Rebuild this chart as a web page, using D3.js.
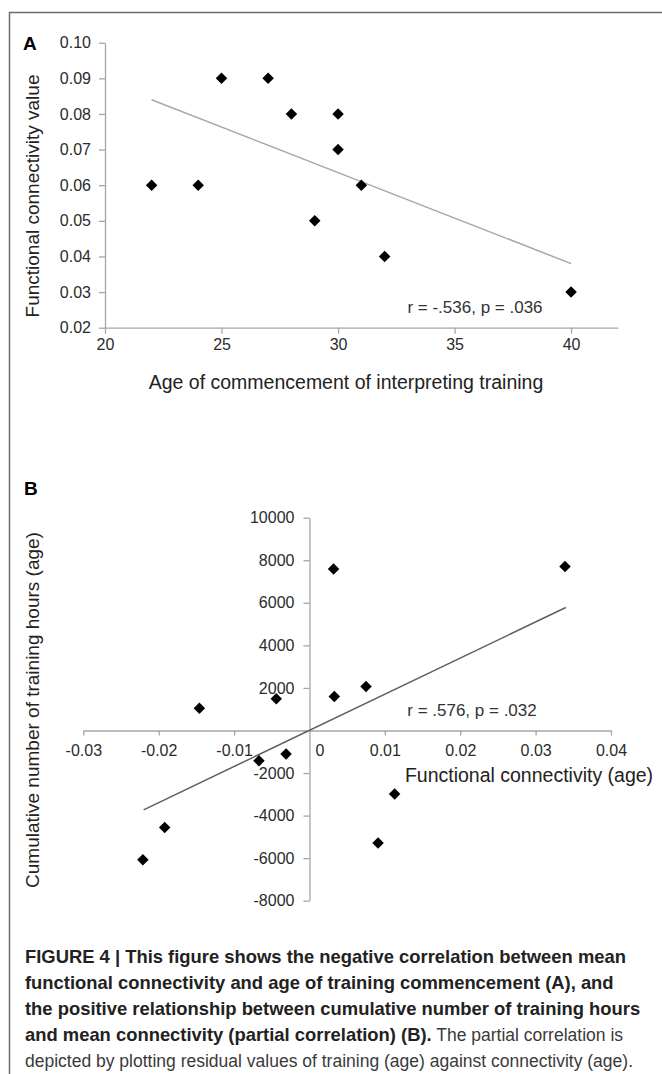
<!DOCTYPE html>
<html>
<head>
<meta charset="utf-8">
<script src="https://cdn.jsdelivr.net/npm/d3@7"></script>
<style>
  html, body { margin: 0; padding: 0; background: #fff; }
  svg { display: block; font-family: "Liberation Sans", Arial, Helvetica, sans-serif; }
</style>
</head>
<body>
<svg id="mainSvg"></svg>
<script>
// panel A: age of commencement vs connectivity
const ageA = [22, 24, 25, 27, 28, 29, 30, 30, 31, 32, 40];
const connA = [0.06, 0.06, 0.09, 0.09, 0.08, 0.05, 0.08, 0.07, 0.06, 0.04, 0.03];
const trendAgeA = [22, 40];
const trendConnA = [0.084, 0.038];
const ticksAX = [20, 25, 30, 35, 40];
const ticksAY = [0.02, 0.03, 0.04, 0.05, 0.06, 0.07, 0.08, 0.09, 0.10];

// panel B: residuals, connectivity (age) vs training hours (age)
const connB = [-0.0221, -0.0192, -0.0146, -0.0067, -0.0044, -0.0031, 0.0032, 0.0033, 0.0075, 0.0091, 0.0113, 0.0339];
const hoursB = [-6080, -4560, 1050, -1420, 1490, -1110, 7590, 1600, 2070, -5290, -2990, 7710];
const trendConnB = [-0.022, 0.034];
const trendHoursB = [-3730, 5780];
const ticksBX = [-0.03, -0.02, -0.01, 0, 0.01, 0.02, 0.03, 0.04];
const ticksBY = [-8000, -6000, -4000, -2000, 0, 2000, 4000, 6000, 8000, 10000];

const captionLines = [
    [{ t: "FIGURE 4 | This figure shows the negative correlation between mean", b: true }],
    [{ t: "functional connectivity and age of training commencement (A), and", b: true }],
    [{ t: "the positive relationship between cumulative number of training hours", b: true }],
    [{ t: "and mean connectivity (partial correlation) (B).", b: true }, { t: " The partial correlation is", b: false }],
    [{ t: "depicted by plotting residual values of training (age) against connectivity (age).", b: false }]
];

const W = 662, H = 1074;
const axisColor = "#a6a6a6";
const textColor = "#2b2b2b";

const svg = d3.select("#mainSvg").attr("width", W).attr("height", H);

// frame (left + top visible)
svg.append("path")
    .attr("d", `M9.5,${H} L9.5,12.5 L${W},12.5`)
    .attr("fill", "none")
    .attr("stroke", "#6b6b6b")
    .attr("stroke-width", 1.5);

const diamond = d3.symbol().type(d3.symbolSquare).size(66);

function styleAxis(g) {
    g.select(".domain").attr("stroke", axisColor).attr("stroke-width", 1.3);
    g.selectAll(".tick line").attr("stroke", axisColor).attr("stroke-width", 1.3);
    g.selectAll(".tick text").attr("fill", textColor).style("font-size", "16px")
        .style("font-family", "'Liberation Sans', Arial, sans-serif");
}

// ---------- panel A ----------
{
    const x = d3.scaleLinear().domain([20, 42]).range([105, 617.7]);
    const y = d3.scaleLinear().domain([0.02, 0.10]).range([327.7, 42.7]);
    const g = svg.append("g").attr("id", "panelA");

    g.append("g")
        .attr("transform", `translate(0,${y(0.02)})`)
        .call(d3.axisBottom(x).tickValues(ticksAX).tickSize(6).tickPadding(5).tickSizeOuter(0))
        .call(styleAxis);

    g.append("g")
        .attr("transform", `translate(${x(20)},0)`)
        .call(d3.axisLeft(y).tickValues(ticksAY).tickSize(6).tickPadding(8).tickSizeOuter(0)
            .tickFormat(d => d.toFixed(2)))
        .call(styleAxis);

    g.append("line")
        .attr("x1", x(trendAgeA[0])).attr("y1", y(trendConnA[0]))
        .attr("x2", x(trendAgeA[1])).attr("y2", y(trendConnA[1]))
        .attr("stroke", "#a8a8a8").attr("stroke-width", 1.5);

    g.selectAll("path.pt")
        .data(ageA.map((a, i) => [a, connA[i]]))
        .join("path")
        .attr("class", "pt")
        .attr("d", diamond)
        .attr("transform", d => `translate(${x(d[0])},${y(d[1])}) rotate(45)`)
        .attr("fill", "#000");

    g.append("text").text("A")
        .attr("x", 23).attr("y", 50)
        .attr("font-weight", "bold").attr("font-size", 19).attr("fill", "#000");

    g.append("text").text("r = -.536, p = .036")
        .attr("x", 475).attr("y", 313).attr("text-anchor", "middle")
        .attr("font-size", 17).attr("fill", "#333");

    g.append("text").text("Age of commencement of interpreting training")
        .attr("x", 346).attr("y", 389).attr("text-anchor", "middle")
        .attr("font-size", 19.5).attr("fill", "#222");

    g.append("text").text("Functional connectivity value")
        .attr("transform", "translate(39,196) rotate(-90)")
        .attr("text-anchor", "middle")
        .attr("font-size", 19).attr("fill", "#222");
}

// ---------- panel B ----------
{
    const x = d3.scaleLinear().domain([-0.03, 0.04]).range([83.3, 611]);
    const y = d3.scaleLinear().domain([-8000, 10000]).range([900.7, 517.7]);
    const g = svg.append("g").attr("id", "panelB");

    const xAxisG = g.append("g")
        .attr("transform", `translate(0,${y(0)})`)
        .call(d3.axisBottom(x).tickValues(ticksBX).tickSize(5).tickPadding(9).tickSizeOuter(0)
            .tickFormat(d => d === 0 ? "0" : d.toFixed(2)))
        .call(styleAxis);
    // the zero label sits to the right of the vertical axis
    xAxisG.selectAll(".tick").filter(d => d === 0).select("text").attr("dx", 10);
    xAxisG.selectAll(".tick").filter(d => d === 0).select("line").remove();

    g.append("g")
        .attr("transform", `translate(${x(0)},0)`)
        .call(d3.axisLeft(y).tickValues(ticksBY).tickSize(6).tickPadding(9).tickSizeOuter(0)
            .tickFormat(d => d === 0 ? "" : String(d)))
        .call(styleAxis);

    g.append("line")
        .attr("x1", x(trendConnB[0])).attr("y1", y(trendHoursB[0]))
        .attr("x2", x(trendConnB[1])).attr("y2", y(trendHoursB[1]))
        .attr("stroke", "#5e5e5e").attr("stroke-width", 1.5);

    g.selectAll("path.pt")
        .data(connB.map((c, i) => [c, hoursB[i]]))
        .join("path")
        .attr("class", "pt")
        .attr("d", diamond)
        .attr("transform", d => `translate(${x(d[0])},${y(d[1])}) rotate(45)`)
        .attr("fill", "#000");

    g.append("text").text("B")
        .attr("x", 24).attr("y", 495)
        .attr("font-weight", "bold").attr("font-size", 19).attr("fill", "#000");

    g.append("text").text("r = .576, p = .032")
        .attr("x", 472).attr("y", 716).attr("text-anchor", "middle")
        .attr("font-size", 17).attr("fill", "#333");

    g.append("text").text("Functional connectivity (age)")
        .attr("x", 529).attr("y", 782).attr("text-anchor", "middle")
        .attr("font-size", 19.5).attr("fill", "#222");

    g.append("text").text("Cumulative number of training hours (age)")
        .attr("transform", "translate(39,710) rotate(-90)")
        .attr("text-anchor", "middle")
        .attr("font-size", 19).attr("fill", "#222");
}

// ---------- caption ----------
{
    const cap = svg.append("g").attr("id", "caption");
    captionLines.forEach((parts, i) => {
        const t = cap.append("text")
            .attr("x", 25).attr("y", 963 + i * 26);
        parts.forEach(p => {
            t.append("tspan").text(p.t)
                .attr("font-weight", p.b ? "bold" : "normal")
                .attr("font-size", p.b ? 18.4 : 17.5)
                .attr("fill", p.b ? "#222" : "#3a3a3a");
        });
    });
}
</script>
</body>
</html>
